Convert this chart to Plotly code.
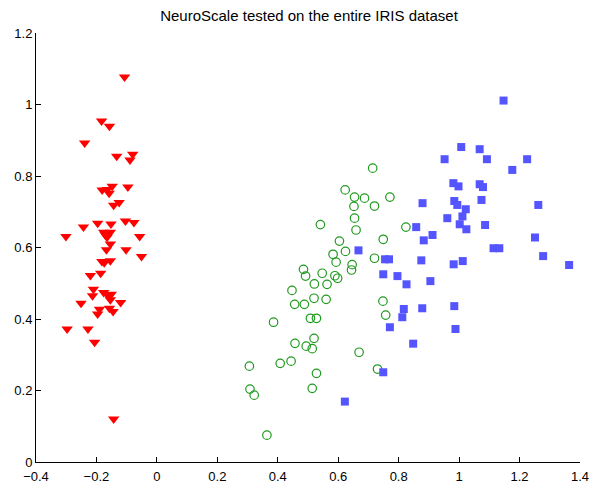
import plotly.graph_objects as go

# Setosa (red down-triangles)
setosa_x = [-0.107, -0.183, -0.157, -0.239, -0.133, -0.080, -0.089, -0.181, -0.148, -0.158,
            -0.096, -0.143, -0.125, -0.243, -0.196, -0.152, -0.104, -0.076, -0.301, -0.176,
            -0.154, -0.165, -0.057, -0.154, -0.167, -0.102, -0.051, -0.182, -0.154, -0.220,
            -0.186, -0.210, -0.213, -0.176, -0.151, -0.154, -0.251, -0.120, -0.190, -0.157,
            -0.196, -0.145, -0.297, -0.228, -0.206, -0.143, -0.171, -0.161, -0.174, -0.164]
setosa_y = [1.077, 0.954, 0.939, 0.892, 0.855, 0.861, 0.845, 0.761, 0.771, 0.752,
            0.769, 0.718, 0.726, 0.657, 0.668, 0.666, 0.674, 0.670, 0.631, 0.643,
            0.643, 0.629, 0.631, 0.610, 0.594, 0.594, 0.575, 0.561, 0.563, 0.522,
            0.528, 0.483, 0.465, 0.474, 0.469, 0.454, 0.444, 0.446, 0.427, 0.430,
            0.414, 0.421, 0.372, 0.372, 0.335, 0.120, 0.636, 0.465, 0.557, 0.762]

# Versicolor (green open circles)
versi_x = [0.714, 0.623, 0.654, 0.687, 0.771, 0.652, 0.720, 0.654, 0.541, 0.824,
           0.659, 0.749, 0.604, 0.624, 0.583, 0.593, 0.720, 0.646, 0.644, 0.485,
           0.492, 0.547, 0.589, 0.598, 0.521, 0.563, 0.447, 0.520, 0.560, 0.456,
           0.488, 0.748, 0.757, 0.386, 0.508, 0.528, 0.457, 0.520, 0.494, 0.514,
           0.669, 0.306, 0.408, 0.444, 0.528, 0.730, 0.308, 0.322, 0.514, 0.364]
versi_y = [0.822, 0.761, 0.741, 0.738, 0.741, 0.715, 0.716, 0.682, 0.664, 0.657,
           0.649, 0.623, 0.618, 0.589, 0.581, 0.559, 0.570, 0.552, 0.537, 0.539,
           0.520, 0.528, 0.521, 0.514, 0.498, 0.497, 0.480, 0.458, 0.455, 0.441,
           0.441, 0.450, 0.411, 0.391, 0.402, 0.402, 0.332, 0.346, 0.324, 0.317,
           0.307, 0.268, 0.276, 0.282, 0.248, 0.260, 0.204, 0.187, 0.206, 0.075]

# Virginica (blue squares)
virg_x = [1.147, 1.007, 1.068, 0.952, 1.092, 1.225, 1.176, 0.981, 0.998, 1.068,
          1.079, 0.879, 0.984, 0.994, 1.074, 1.262, 1.022, 0.961, 1.011, 1.002,
          1.086, 0.858, 1.024, 0.912, 0.883, 1.251, 1.114, 1.133, 1.278, 1.364,
          0.667, 0.755, 0.768, 0.875, 0.982, 1.012, 0.749, 0.796, 0.826, 0.905,
          0.817, 0.812, 0.878, 0.984, 0.771, 0.988, 0.848, 0.749, 0.622]
virg_y = [1.011, 0.881, 0.875, 0.847, 0.847, 0.847, 0.817, 0.780, 0.771, 0.777,
          0.769, 0.724, 0.730, 0.719, 0.733, 0.719, 0.707, 0.682, 0.687, 0.665,
          0.663, 0.657, 0.651, 0.635, 0.620, 0.628, 0.598, 0.598, 0.576, 0.551,
          0.592, 0.567, 0.567, 0.564, 0.553, 0.562, 0.525, 0.520, 0.497, 0.506,
          0.428, 0.405, 0.430, 0.436, 0.377, 0.372, 0.331, 0.251, 0.169]

title_text = "NeuroScale tested on the entire IRIS dataset"
x_ticks = [-0.4, -0.2, 0, 0.2, 0.4, 0.6, 0.8, 1, 1.2, 1.4]
y_ticks = [0, 0.2, 0.4, 0.6, 0.8, 1, 1.2]

FONT = "Liberation Sans, Arial, sans-serif"

fig = go.Figure()
fig.add_trace(go.Scatter(x=setosa_x, y=setosa_y, mode="markers",
                         marker=dict(symbol="triangle-down", size=10, color="#ff0000",
                                     line=dict(width=0))))
fig.add_trace(go.Scatter(x=versi_x, y=versi_y, mode="markers",
                         marker=dict(symbol="circle-open", size=8.5, color="#1f9a1f",
                                     line=dict(width=1.2, color="#1f9a1f"))))
fig.add_trace(go.Scatter(x=virg_x, y=virg_y, mode="markers",
                         marker=dict(symbol="square", size=8, color="#5555ff",
                                     line=dict(width=0))))

axis_common = dict(showline=True, linecolor="black", linewidth=1, ticks="inside",
                   ticklen=5, tickcolor="black", tickwidth=1, showgrid=False,
                   zeroline=False, mirror=False,
                   tickfont=dict(family=FONT, size=13, color="black"))
fig.update_layout(
    width=592, height=483,
    margin=dict(l=36, r=12, t=33, b=21, autoexpand=False),
    paper_bgcolor="white", plot_bgcolor="white",
    showlegend=False,
    title=dict(text=title_text, x=0.522, xanchor="center", y=1 - 16 / 483,
               yref="container", yanchor="middle",
               font=dict(family=FONT, size=15, color="black")),
    xaxis=dict(range=[-0.4, 1.4], tickvals=x_ticks, ticklabelstandoff=2, **axis_common),
    yaxis=dict(range=[0, 1.2], tickvals=y_ticks, **axis_common),
)
fig.write_html("out.html")
